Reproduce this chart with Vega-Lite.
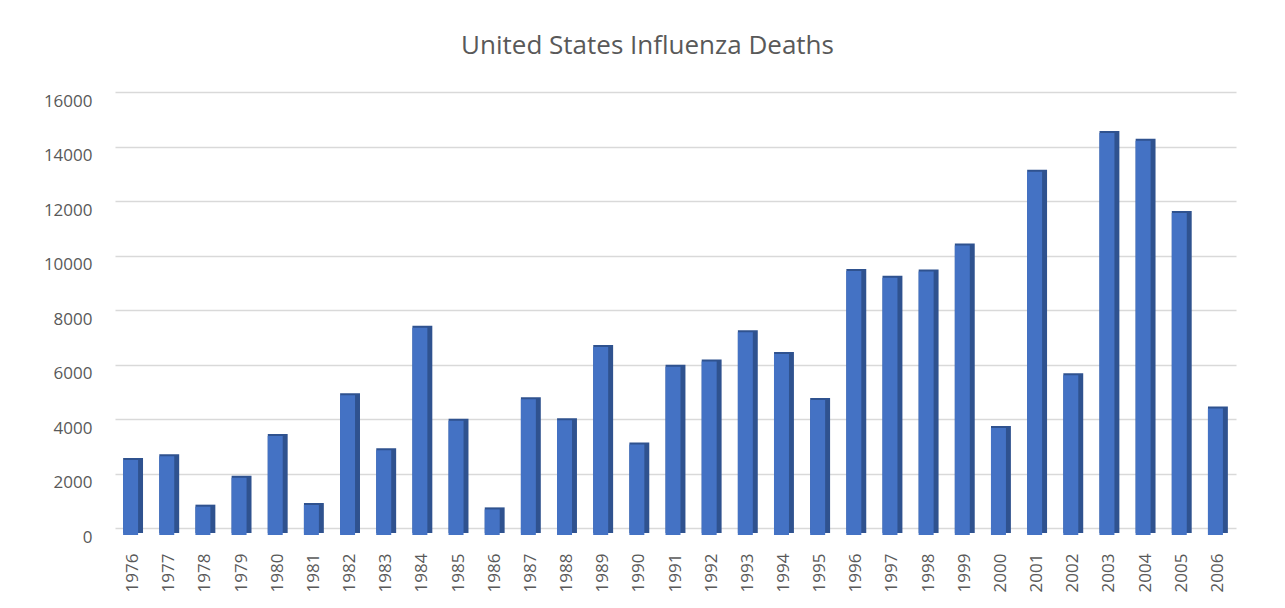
{
  "$schema": "https://vega.github.io/schema/vega-lite/v6.json",
  "width": 1125,
  "height": 436,
  "autosize": {"type": "none"},
  "padding": {"left": 120, "top": 92, "right": 40, "bottom": 80},
  "background": "white",
  "title": {
    "text": "United States Influenza Deaths",
    "font": "Open Sans",
    "fontSize": 26,
    "fontWeight": "normal",
    "color": "#595959",
    "anchor": "middle",
    "dx": -35,
    "offset": 33
  },
  "data": {
    "values": [
      {"year": "1976", "deaths": 2750},
      {"year": "1977", "deaths": 2890},
      {"year": "1978", "deaths": 1040},
      {"year": "1979", "deaths": 2100},
      {"year": "1980", "deaths": 3630},
      {"year": "1981", "deaths": 1100},
      {"year": "1982", "deaths": 5130},
      {"year": "1983", "deaths": 3110},
      {"year": "1984", "deaths": 7610},
      {"year": "1985", "deaths": 4190},
      {"year": "1986", "deaths": 940},
      {"year": "1987", "deaths": 4980},
      {"year": "1988", "deaths": 4210},
      {"year": "1989", "deaths": 6900},
      {"year": "1990", "deaths": 3320},
      {"year": "1991", "deaths": 6170},
      {"year": "1992", "deaths": 6370},
      {"year": "1993", "deaths": 7440},
      {"year": "1994", "deaths": 6640},
      {"year": "1995", "deaths": 4950},
      {"year": "1996", "deaths": 9690},
      {"year": "1997", "deaths": 9440},
      {"year": "1998", "deaths": 9670},
      {"year": "1999", "deaths": 10620},
      {"year": "2000", "deaths": 3930},
      {"year": "2001", "deaths": 13330},
      {"year": "2002", "deaths": 5860},
      {"year": "2003", "deaths": 14750},
      {"year": "2004", "deaths": 14470},
      {"year": "2005", "deaths": 11820},
      {"year": "2006", "deaths": 4640}
    ]
  },
  "encoding": {
    "x": {
      "field": "year",
      "type": "ordinal",
      "scale": {"paddingInner": 0, "paddingOuter": 0, "range": [-5, 1116]},
      "axis": {
        "title": null,
        "labelAngle": -90,
        "labelAlign": "right",
        "labelBaseline": "middle",
        "labelPadding": 25,
        "labelFont": "Open Sans",
        "labelFontSize": 17,
        "labelColor": "#595959",
        "ticks": false,
        "domain": false,
        "grid": false
      }
    },
    "y": {
      "field": "deaths",
      "type": "quantitative",
      "scale": {"domain": [0, 16000], "nice": false},
      "axis": {
        "title": null,
        "values": [0, 2000, 4000, 6000, 8000, 10000, 12000, 14000, 16000],
        "format": "d",
        "labelOffset": 9,
        "labelFont": "Open Sans",
        "labelFontSize": 17,
        "labelColor": "#595959",
        "labelPadding": 28,
        "ticks": false,
        "domain": false,
        "grid": true,
        "gridColor": "#d9d9d9",
        "gridWidth": 1.5
      }
    }
  },
  "layer": [
    {
      "mark": {"type": "bar", "color": "#2F528F", "width": {"band": 0.55}, "yOffset": 5}
    },
    {
      "mark": {"type": "bar", "color": "#4472C4", "width": {"band": 0.415}, "xOffset": -2.5, "yOffset": 7}
    }
  ],
  "config": {"view": {"stroke": null}}
}
